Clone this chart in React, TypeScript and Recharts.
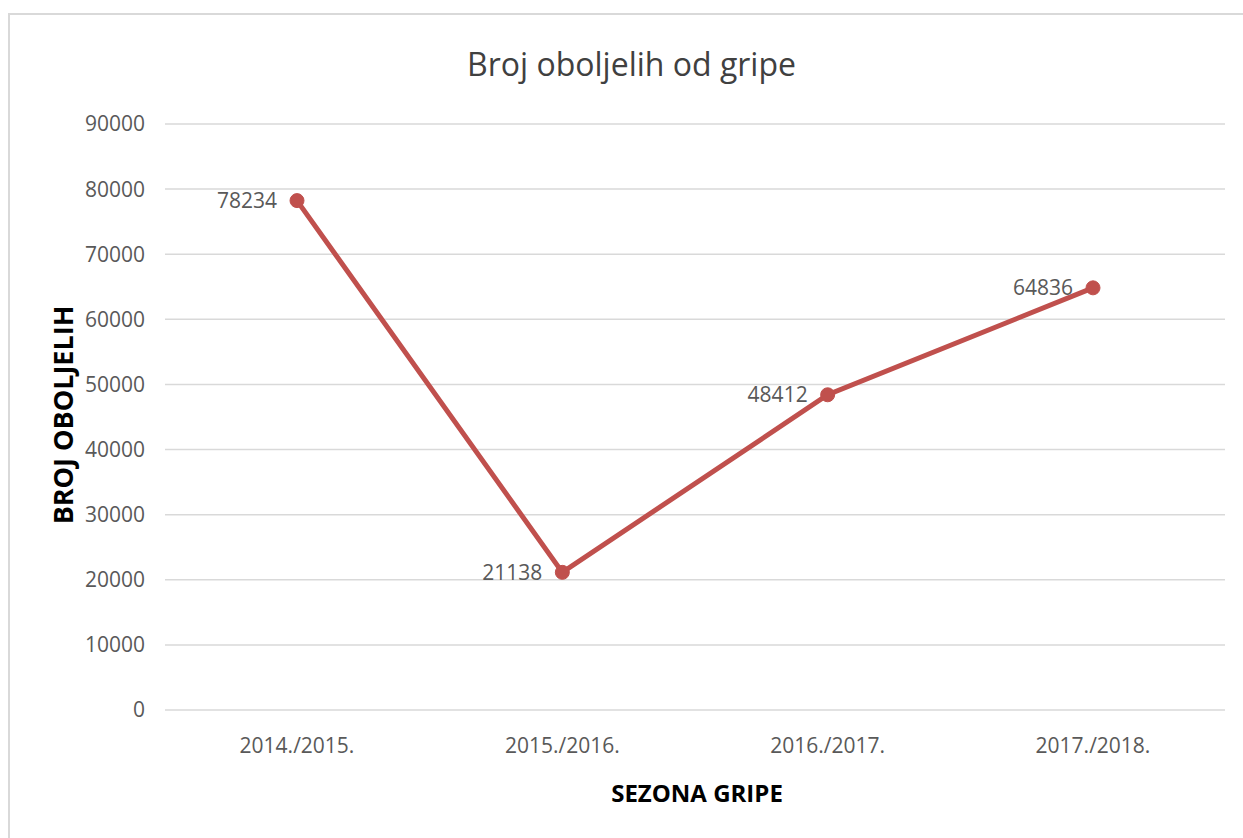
import React from 'react';
import { LineChart, Line, XAxis, YAxis, CartesianGrid, LabelList } from 'recharts';

const seasons = ['2014./2015.', '2015./2016.', '2016./2017.', '2017./2018.'];
const cases = [78234, 21138, 48412, 64836];
const yTicks = [0, 10000, 20000, 30000, 40000, 50000, 60000, 70000, 80000, 90000];

const data = seasons.map((s, i) => ({ season: s, cases: cases[i] }));

const font = '"Open Sans", sans-serif';

export default function App() {
  return (
    <div style={{ position: 'absolute', left: 0, top: 0, width: 1243, height: 838, overflow: 'hidden', background: '#fff', fontFamily: font }}>
      <div style={{ position: 'absolute', left: 8, top: 13, width: 1250, height: 850, border: '2px solid #d9d9d9', boxSizing: 'border-box' }} />
      <div style={{ position: 'absolute', left: 0, width: 1263, top: 42, textAlign: 'center', fontSize: 32, color: '#404040' }}>
        Broj oboljelih od gripe
      </div>
      <div style={{ position: 'absolute', left: 62, top: 415, transform: 'translate(-50%, -50%) rotate(-90deg)', fontSize: 27, fontWeight: 700, color: '#000', whiteSpace: 'nowrap' }}>
        BROJ OBOLJELIH
      </div>
      <div style={{ position: 'absolute', left: 697, top: 792, transform: 'translate(-50%, -50%)', fontSize: 24, fontWeight: 700, color: '#000', whiteSpace: 'nowrap' }}>
        SEZONA GRIPE
      </div>
      <div style={{ position: 'absolute', left: 0, top: 0 }}>
        <LineChart width={1243} height={838} data={data} margin={{ top: 124, right: 18, bottom: 68, left: 85 }}>
          <CartesianGrid vertical={false} stroke="#d9d9d9" strokeWidth={1.5} />
          <XAxis
            dataKey="season"
            axisLine={false}
            tickLine={false}
            tickMargin={22}
            height={60}
            padding={{ left: 132, right: 132 }}
            tick={{ fontSize: 21, fill: '#595959', fontFamily: font }}
          />
          <YAxis
            domain={[0, 90000]}
            ticks={yTicks}
            axisLine={false}
            tickLine={false}
            tickMargin={14}
            width={80}
            tick={{ fontSize: 21, fill: '#595959', fontFamily: font }}
          />
          <Line
            type="linear"
            dataKey="cases"
            stroke="#c0504d"
            strokeWidth={5}
            dot={{ r: 7, fill: '#c0504d', stroke: '#c0504d', strokeWidth: 1 }}
            isAnimationActive={false}
          >
            <LabelList dataKey="cases" position="left" offset={20} style={{ fontSize: 21, fill: '#595959', fontFamily: font }} />
          </Line>
        </LineChart>
      </div>
    </div>
  );
}
